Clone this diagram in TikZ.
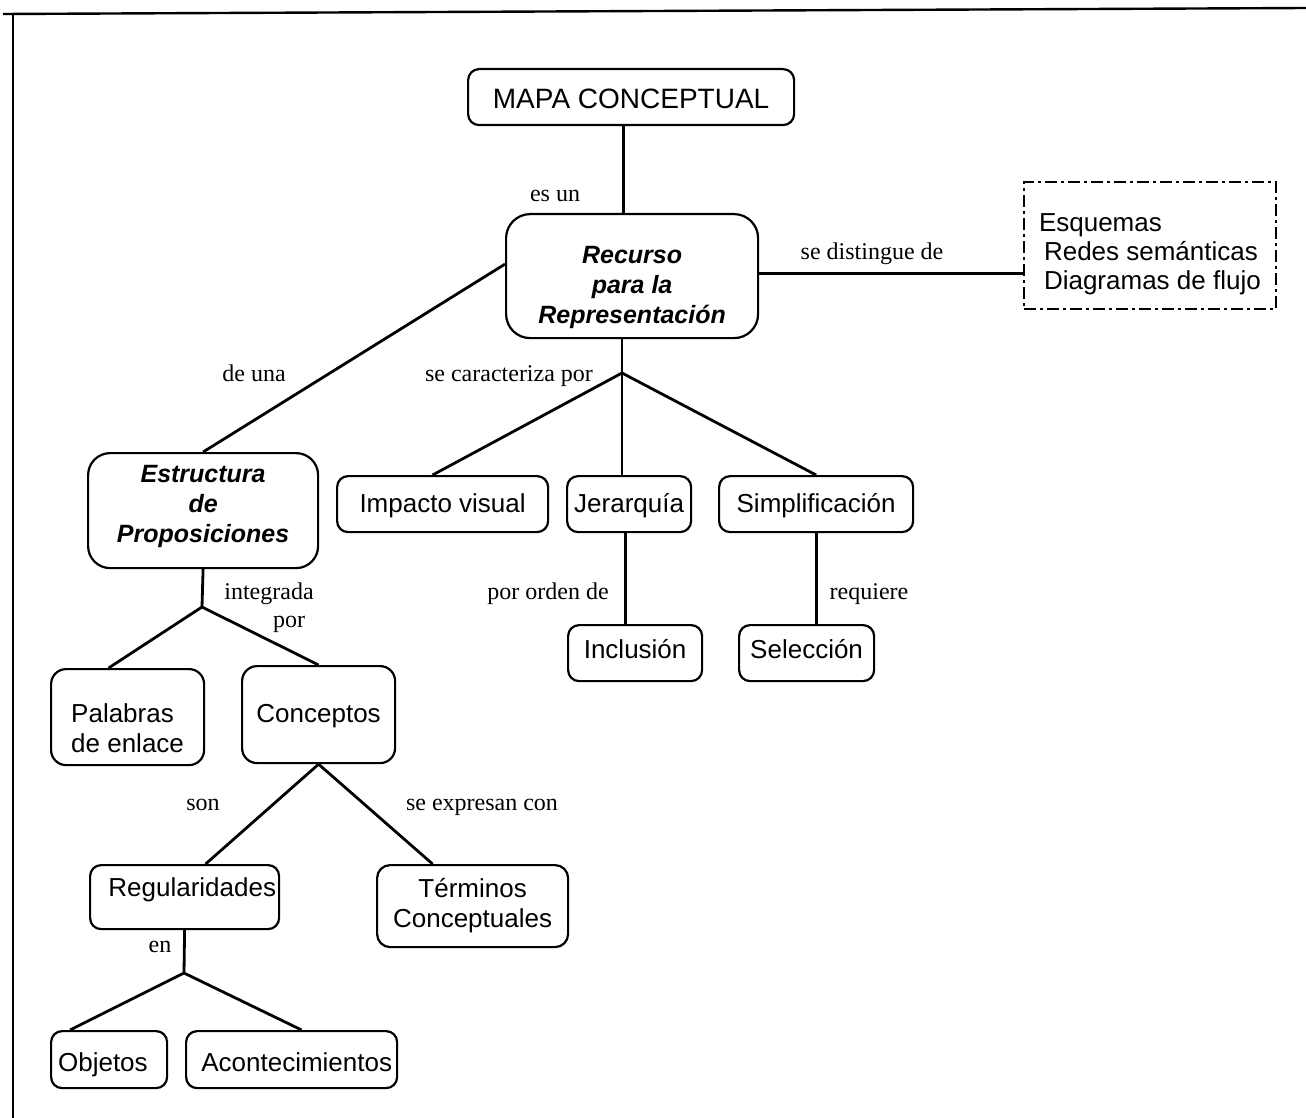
\documentclass[tikz,border=0pt]{standalone}
\usepackage{fontspec}
\setmainfont{Liberation Serif}
\newfontfamily\sansf{Liberation Sans}
\usetikzlibrary{calc}
\begin{document}
\begin{tikzpicture}[x=1pt,y=-1pt,
  concept/.style={draw, line width=2.2pt, rounded corners=11pt, anchor=north west,
    inner xsep=0pt, inner ysep=0pt, align=center,
    font=\sansf\fontsize{26}{30}\selectfont},
  keybox/.style={concept, rounded corners=24pt,
    font=\sansf\bfseries\itshape\fontsize{25}{30}\selectfont},
  listbox/.style={draw, line width=1.8pt, anchor=north west, inner xsep=0pt, inner ysep=0pt,
    align=left, dash pattern=on 12pt off 4pt on 3pt off 4pt,
    font=\sansf\fontsize{26}{29}\selectfont},
  link/.style={line width=2.8pt},
  verb/.style={anchor=base, inner sep=0pt, font=\fontsize{24}{28}\selectfont},
]
\fill[white] (0,0) rectangle (1306,1118);
\useasboundingbox (0,0) rectangle (1306,1118);

% page frame
\draw[line width=2.4pt] (3,14) -- (1306,8);
\draw[line width=2.4pt] (13,14) -- (13,1118);

% concepts (for multi-line boxes the text height is measured to the last baseline)
\node[concept, minimum width=326pt, minimum height=56pt, text height=39pt, text depth=17pt,
  font=\sansf\fontsize{28}{32}\selectfont] (mapa) at (467,68) {MAPA CONCEPTUAL};
\node[keybox, minimum width=252pt, minimum height=124pt, text height=109pt, text depth=15pt]
  (recurso) at (505,213) {Recurso\\para la\\Representación};
\node[listbox, minimum width=252pt, minimum height=127pt, text height=108pt, text depth=19pt]
  (others) at (1023,181) {Esquemas\\\hspace*{5pt}Redes semánticas\\\hspace*{5pt}Diagramas de flujo};
\node[keybox, rounded corners=22pt, minimum width=230pt, minimum height=115pt, text height=89pt, text depth=26pt]
  (estructura) at (87,452) {Estructura\\de\\Proposiciones};

\node[concept, minimum width=211pt, minimum height=56pt, text height=36pt, text depth=20pt]
  (impacto) at (336,475) {Impacto visual};
\node[concept, minimum width=124pt, minimum height=56pt, text height=36pt, text depth=20pt]
  (jerarquia) at (566,475) {Jerarquía};
\node[concept, minimum width=194pt, minimum height=56pt, text height=36pt, text depth=20pt]
  (simplificacion) at (718,475) {Simplificación};
\node[concept, minimum width=134pt, minimum height=56pt, text height=33pt, text depth=23pt]
  (inclusion) at (567,624) {Inclusión};
\node[concept, minimum width=135pt, minimum height=56pt, text height=33pt, text depth=23pt]
  (seleccion) at (738,624) {Selección};

\node[concept, rounded corners=15pt, align=left, minimum width=153pt, minimum height=96pt,
  text height=83pt, text depth=13pt] (palabras) at (50,668) {Palabras\\de enlace};
\node[concept, rounded corners=15pt, minimum width=153pt, minimum height=97pt,
  text height=56pt, text depth=41pt] (conceptos) at (241,665) {Conceptos};

\node[concept, align=right, inner xsep=3pt, text width=183pt, minimum height=64pt,
  text height=31pt, text depth=33pt] (regularidades) at (89,864) {Regularidades};
\node[concept, rounded corners=13pt, minimum width=191pt, minimum height=82pt,
  text height=62pt, text depth=20pt] (terminos) at (376,864) {Términos\\Conceptuales};

\node[concept, align=left, inner xsep=7pt, text width=102pt, minimum height=57pt,
  text height=40pt, text depth=17pt] (objetos) at (50,1030) {Objetos};
\node[concept, align=right, inner xsep=5pt, text width=201pt, minimum height=57pt,
  text height=40pt, text depth=17pt] (acontecimientos) at (185,1030) {Acontecimientos};

% branching points
\coordinate (jc) at (622,373);
\coordinate (je) at (202,607);
\coordinate (jr) at (184,973);

% connectors
\draw[link] ([xshift=-8pt]mapa.south) -- ([xshift=-8pt]mapa.south |- recurso.north);
\draw[link] ([yshift=3pt]recurso.east) -- ([yshift=3pt]recurso.east -| others.west);
\draw[link] ([yshift=12pt]recurso.west) -- (estructura.north);
\draw[link] (recurso.south -| jc) -- (jc);
\draw[link] (jc) -- ([xshift=-10pt]impacto.north);
\draw[link] (jc) -- (jc |- jerarquia.north);
\draw[link] (jc) -- (simplificacion.north);
\draw[link] ([xshift=-4pt]jerarquia.south) -- ([xshift=-4pt]jerarquia.south |- inclusion.north);
\draw[link] (simplificacion.south) -- (simplificacion.south |- seleccion.north);
\draw[link] (estructura.south) -- (je);
\draw[link] (je) -- ([xshift=-19pt]palabras.north);
\draw[link] (je) -- (conceptos.north);
\draw[link] (conceptos.south) -- ([xshift=21pt]regularidades.north);
\draw[link] (conceptos.south) -- ([xshift=-40pt]terminos.north);
\draw[link] (regularidades.south) -- (jr);
\draw[link] (jr) -- ([xshift=-39pt]objetos.north);
\draw[link] (jr) -- ([xshift=10pt]acontecimientos.north);

% linking words
\node[verb] (l1) at (555,201) {es un};
\node[verb] (l2) at (872,259) {se distingue de};
\node[verb] (l3) at (254,381) {de una};
\node[verb] (l4) at (509,381) {se caracteriza por};
\node[verb] (l5) at (269,599) {integrada};
\node[verb] (l6) at (289,627) {por};
\node[verb] (l7) at (548,599) {por orden de};
\node[verb] (l8) at (869,599) {requiere};
\node[verb] (l9) at (203,810) {son};
\node[verb] (l10) at (482,810) {se expresan con};
\node[verb] (l11) at (160,952) {en};
\end{tikzpicture}
\end{document}
